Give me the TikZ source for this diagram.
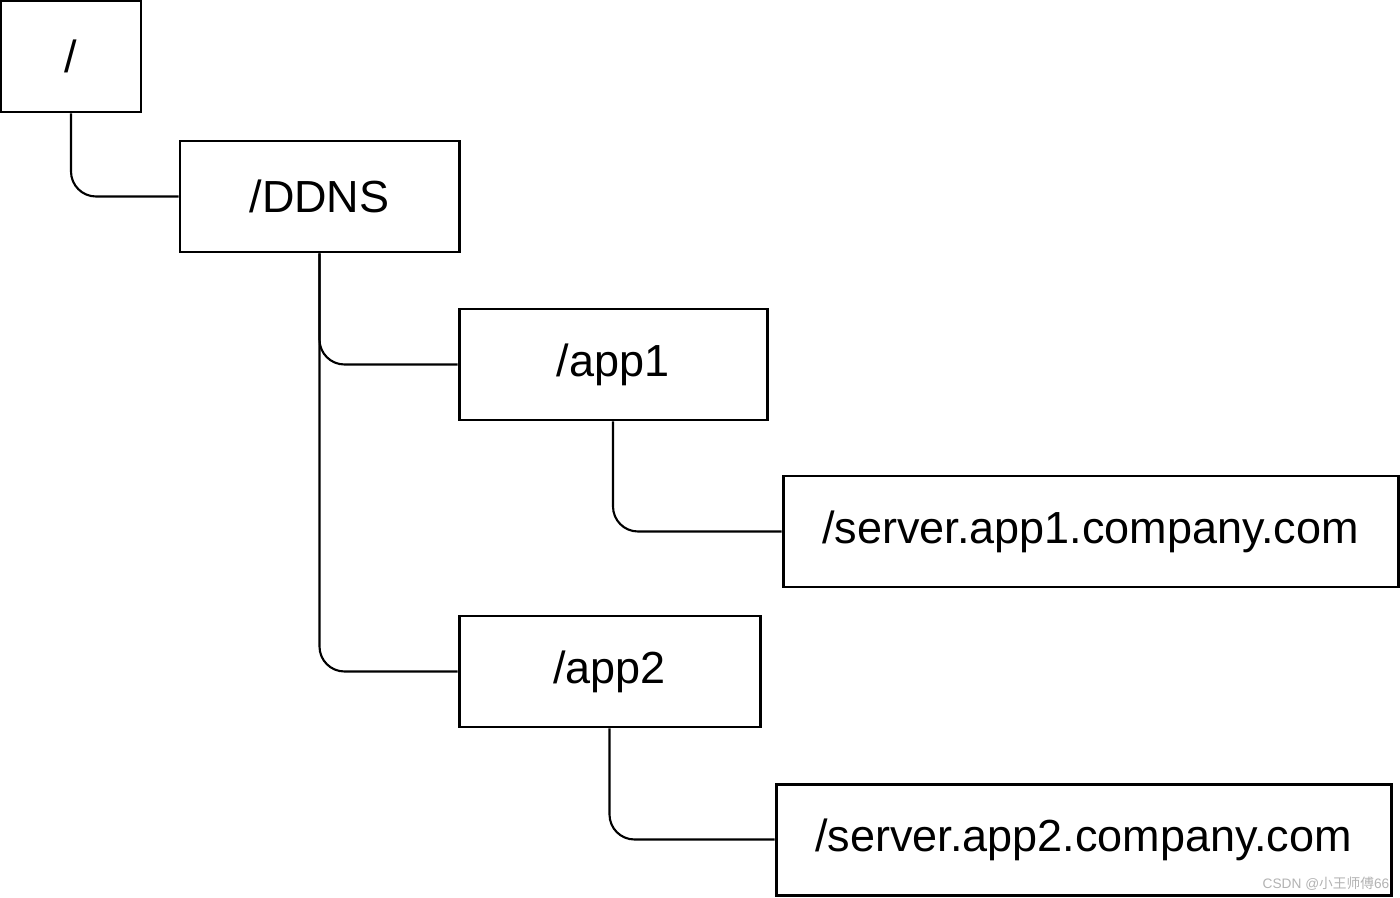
\documentclass[tikz,border=0pt]{standalone}
\usepackage{fontspec}
\setmainfont{Liberation Sans}
\newfontfamily\cjkfont{Noto Sans CJK SC}
\usepackage{tikz}
\usetikzlibrary{positioning, calc}
\usepackage{xcolor}

\begin{document}
\begin{tikzpicture}[scale=1.0,
	dirbox/.style={draw, line width=0.85pt, minimum height=1.11cm, inner sep=0pt,
		font=\fontsize{12.8pt}{15pt}\selectfont},
	link/.style={line width=0.6pt, rounded corners=0.25cm}]
						\useasboundingbox (0,0) rectangle (14,8.97);
						% tree of znodes
						\node[dirbox, minimum width=1.40cm] (root) at (0.71, 8.405) {/};
						\node[dirbox, minimum width=2.79cm] (ddns) at (3.195, 7.005) {/DDNS};
						\node[dirbox, minimum width=3.08cm] (app1) at (6.13, 5.325) {/app1};
						\node[dirbox, minimum width=6.15cm] (srv1) at (10.905, 3.655) {/server.app1.company.com};
						\node[dirbox, minimum width=3.01cm] (app2) at (6.095, 2.255) {/app2};
						\node[dirbox, minimum width=6.15cm] (srv2) at (10.835, 0.575) {/server.app2.company.com};
						\draw[link] (root.south) |- (ddns.west);
						\draw[link] (ddns.south) |- (app1.west);
						\draw[link] (ddns.south) |- (app2.west);
						\draw[link] (app1.south) |- (srv1.west);
						\draw[link] (app2.south) |- (srv2.west);
						\node[gray!60, font=\fontsize{3.9pt}{4pt}\selectfont, anchor=east, inner sep=0pt] (mark) at (13.9, 0.13) {CSDN @{\cjkfont 小王师傅}66};
					\end{tikzpicture}
\end{document}
